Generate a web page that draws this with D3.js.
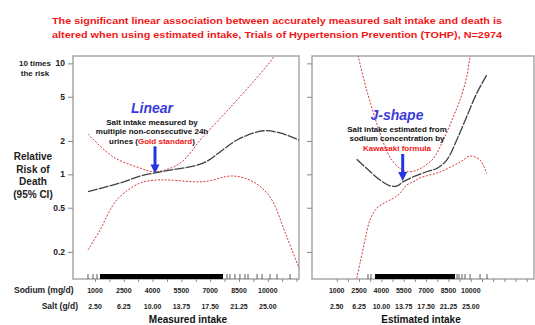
<!DOCTYPE html>
<html>
<head>
<meta charset="utf-8">
<script src="https://cdn.jsdelivr.net/npm/d3@7"></script>
<style>
body { margin: 0; background: #fff; }
text { font-family: "Liberation Sans", Arial, sans-serif; }
</style>
</head>
<body>
<script>
// data: sodium mg/d vs relative risk
var yTicks = [0.2, 0.5, 1, 2, 5, 10];
var sodiumLabels = [1000, 2500, 4000, 5500, 7000, 8500, 10000];
var saltLabels = ["2.50", "6.25", "10.00", "13.75", "17.50", "21.25", "25.00"];

var measuredRR = [[635,0.70],[2300,0.835],[3344,0.965],[4125,1.03],[4906,1.09],[6625,1.26],[7510,1.59],[8396,2.04],[9750,2.47],[10635,2.36],[11625,2.04]];
var measuredUpper = [[635,2.31],[1938,1.44],[3344,1.14],[4125,1.055],[5427,1.26],[6625,2.18],[8396,4.67],[10270,11.2],[10635,14.6]];
var measuredLower = [[635,0.208],[1260,0.315],[2130,0.587],[3344,0.835],[4213,0.888],[4906,0.888],[6625,0.858],[8188,0.966],[9230,0.858],[10115,0.625],[10985,0.274],[11625,0.143]];

var estimatedRR = [[2342,1.365],[3013,1.13],[3906,0.888],[4577,0.789],[5027,0.785],[5470,0.859],[6141,0.951],[7040,1.055],[7711,1.13],[8383,1.345],[9054,2.04],[9725,3.31],[10396,5.37],[11067,7.85]];
var estimatedUpper = [[2295,14.6],[2450,11.5],[3013,5.75],[3685,2.88],[4242,1.77],[4691,1.345],[5248,1.13],[5698,1.055],[6255,1.077],[6812,1.17],[7483,1.39],[8154,2.04],[8826,3.30],[9275,4.67],[9725,7.57],[9946,11.5],[10080,14.6]];
var estimatedLower = [[2342,0.116],[2564,0.158],[2899,0.256],[3235,0.388],[3685,0.494],[4356,0.567],[4799,0.608],[5248,0.675],[5698,0.80],[6141,0.859],[6591,0.93],[7933,1.05],[9275,1.29],[9946,1.46],[10617,1.345],[11067,1.02]];

var measuredRugDense = [1260, 7667];
var measuredRug = [635, 896, 1104, 7875, 8030, 8290, 8550, 8810, 8970, 9440, 9700, 10115, 10480, 11160];
var estimatedRugDense = [3570, 8940];
var estimatedRug = [3100, 3300, 9075, 9210, 9410, 9610, 9950, 10620, 11090];

var w = 535, h = 325;
var plotTop = 56, plotBottom = 279;

var svg = d3.select("body").append("svg")
	.attr("width", w)
	.attr("height", h);

var yScale = d3.scaleLog()
	.domain([0.114, 11.65])
	.range([plotBottom, plotTop]);

// title
var title = ["The significant linear association between accurately measured salt intake and death is",
	"altered when using estimated intake, Trials of Hypertension Prevention (TOHP), N=2974"];
svg.selectAll(".title")
	.data(title)
	.enter()
	.append("text")
	.attr("class", "title")
	.attr("x", 52)
	.attr("y", function(d, i){ return 24 + i * 13.5; })
	.attr("textLength", 450)
	.attr("lengthAdjust", "spacingAndGlyphs")
	.attr("fill", "#f01818")
	.attr("font-weight", "bold")
	.attr("font-size", 9.8)
	.text(function(d){ return d; });

function panel(x0, x1, xDomain, rr, upper, lower, dense, rug, name, id){
	var xScale = d3.scaleLinear().domain(xDomain).range([x0, x1]);
	var g = svg.append("g");

	g.append("clipPath").attr("id", id)
		.append("rect")
		.attr("x", x0).attr("y", plotTop)
		.attr("width", x1 - x0).attr("height", plotBottom - plotTop);

	g.append("rect")
		.attr("x", x0).attr("y", plotTop)
		.attr("width", x1 - x0).attr("height", plotBottom - plotTop)
		.attr("fill", "none")
		.attr("stroke", "#a8a8a8")
		.attr("stroke-width", 1.5);

	var yAxis = d3.axisLeft(yScale)
		.tickValues(yTicks)
		.tickSize(5)
		.tickFormat("");
	g.append("g")
		.attr("transform", "translate(" + x0 + ",0)")
		.call(yAxis)
		.call(function(a){
			a.select(".domain").remove();
			a.selectAll("line").attr("stroke", "#888");
		});

	var ticks = d3.range(1000, xDomain[1], 750);
	var xAxis = d3.axisBottom(xScale)
		.tickValues(ticks)
		.tickSize(3)
		.tickFormat("");
	g.append("g")
		.attr("transform", "translate(0," + plotBottom + ")")
		.call(xAxis)
		.call(function(a){
			a.select(".domain").remove();
			a.selectAll("line").attr("stroke", "#888");
		});

	// rug
	g.append("rect")
		.attr("x", xScale(dense[0]))
		.attr("y", plotBottom - 5)
		.attr("width", xScale(dense[1]) - xScale(dense[0]))
		.attr("height", 5)
		.attr("fill", "#000");
	g.selectAll(".rug")
		.data(rug)
		.enter()
		.append("line")
		.attr("x1", function(d){ return xScale(d); })
		.attr("x2", function(d){ return xScale(d); })
		.attr("y1", plotBottom - 5)
		.attr("y2", plotBottom)
		.attr("stroke", "#333")
		.attr("stroke-width", 0.8);

	var line = d3.line()
		.curve(d3.curveCatmullRom)
		.x(function(d){ return xScale(d[0]); })
		.y(function(d){ return yScale(d[1]); });

	var curves = g.append("g").attr("clip-path", "url(#" + id + ")");
	[upper, lower].forEach(function(c){
		curves.append("path")
			.attr("d", line(c))
			.attr("fill", "none")
			.attr("stroke", "#d23a3a")
			.attr("stroke-width", 1)
			.attr("stroke-dasharray", "2,1.5");
	});
	curves.append("path")
		.attr("d", line(rr))
		.attr("fill", "none")
		.attr("stroke", "#404040")
		.attr("stroke-width", 1.3)
		.attr("stroke-dasharray", "10,1.2");

	g.selectAll(".sod")
		.data(sodiumLabels)
		.enter()
		.append("text")
		.attr("x", function(d){ return xScale(d); })
		.attr("y", 293)
		.attr("text-anchor", "middle")
		.attr("font-size", 7)
		.attr("font-weight", "bold")
		.attr("fill", "#222")
		.text(function(d){ return d; });

	g.selectAll(".salt")
		.data(saltLabels)
		.enter()
		.append("text")
		.attr("x", function(d, i){ return xScale(sodiumLabels[i]); })
		.attr("y", 309)
		.attr("text-anchor", "middle")
		.attr("font-size", 7)
		.attr("font-weight", "bold")
		.attr("fill", "#222")
		.text(function(d){ return d; });

	g.append("text")
		.attr("x", name.x)
		.attr("y", 323)
		.attr("text-anchor", "middle")
		.attr("font-size", 10)
		.attr("font-weight", "bold")
		.attr("fill", "#111")
		.text(name.t);

	return xScale;
}

var xLeft = panel(73, 299, [-146, 11625], measuredRR, measuredUpper, measuredLower, measuredRugDense, measuredRug, {x: 188, t: "Measured intake"}, "clipL");
var xRight = panel(312, 534, [-658, 14240], estimatedRR, estimatedUpper, estimatedLower, estimatedRugDense, estimatedRug, {x: 421, t: "Estimated intake"}, "clipR");

// y tick labels
svg.selectAll(".ylab")
	.data(yTicks)
	.enter()
	.append("text")
	.attr("x", 65)
	.attr("y", function(d){ return yScale(d) + 3; })
	.attr("text-anchor", "end")
	.attr("font-size", 8.5)
	.attr("font-weight", "bold")
	.attr("fill", "#222")
	.text(function(d){ return d; });

svg.selectAll(".risk")
	.data(["10 times", "the risk"])
	.enter()
	.append("text")
	.attr("x", 35)
	.attr("y", function(d, i){ return 66 + i * 10; })
	.attr("text-anchor", "middle")
	.attr("font-size", 8)
	.attr("font-weight", "bold")
	.attr("fill", "#222")
	.text(function(d){ return d; });

svg.selectAll(".ytitle")
	.data(["Relative", "Risk of", "Death", "(95% CI)"])
	.enter()
	.append("text")
	.attr("x", 33)
	.attr("y", function(d, i){ return 160 + i * 12.5; })
	.attr("text-anchor", "middle")
	.attr("font-size", 10)
	.attr("font-weight", "bold")
	.attr("fill", "#222")
	.text(function(d){ return d; });

svg.append("text").attr("x", 14).attr("y", 293)
	.attr("font-size", 8.5).attr("font-weight", "bold").attr("fill", "#222")
	.text("Sodium (mg/d)");
svg.append("text").attr("x", 78).attr("y", 309).attr("text-anchor", "end")
	.attr("font-size", 8.5).attr("font-weight", "bold").attr("fill", "#222")
	.text("Salt (g/d)");

// annotations
function note(x, head, lines, tipX, tipY){
	svg.append("text")
		.attr("x", x).attr("y", head.y)
		.attr("text-anchor", "middle")
		.attr("font-size", 14)
		.attr("font-weight", "bold")
		.attr("font-style", "italic")
		.attr("fill", "#3b3bdc")
		.text(head.t);
	lines.forEach(function(l, i){
		var t = svg.append("text")
			.attr("x", x).attr("y", head.y + 12 + i * 9.3)
			.attr("text-anchor", "middle")
			.attr("font-size", 8)
			.attr("font-weight", "bold")
			.attr("fill", "#111");
		l.forEach(function(p){
			t.append("tspan").attr("fill", p[1]).text(p[0]);
		});
	});
	svg.append("line")
		.attr("x1", tipX).attr("x2", tipX)
		.attr("y1", tipY - 27).attr("y2", tipY - 8)
		.attr("stroke", "#2536e0")
		.attr("stroke-width", 3);
	svg.append("path")
		.attr("d", "M" + (tipX - 4.5) + "," + (tipY - 9) + "L" + (tipX + 4.5) + "," + (tipY - 9) + "L" + tipX + "," + tipY + "Z")
		.attr("fill", "#2536e0");
}

note(152, {y: 113, t: "Linear"}, [
	[["Salt intake measured by", "#111"]],
	[["multiple non-consecutive 24h", "#111"]],
	[["urines (", "#111"], ["Gold standard", "#f01818"], [")", "#111"]]
], xLeft(4125), yScale(1.02));

note(397, {y: 120, t: "J-shape"}, [
	[["Salt intake estimated from", "#111"]],
	[["sodium concentration by", "#111"]],
	[["Kawasaki formula", "#f01818"]]
], 402.7, 181);
</script>
</body>
</html>
